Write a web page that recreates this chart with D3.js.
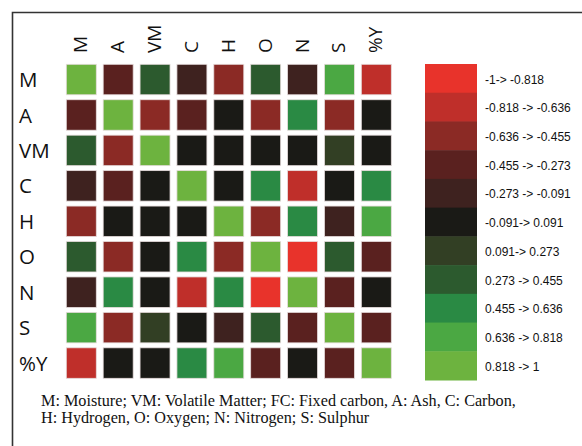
<!DOCTYPE html>
<html>
<head>
<meta charset="utf-8">
<script src="https://cdnjs.cloudflare.com/ajax/libs/d3/7.8.5/d3.min.js"></script>
<style>
  body { margin: 0; background: #fff; }
</style>
</head>
<body>
<div id="chart"></div>
<script>
// Setting up width and height of chart
var svgWidth = 582;
var svgHeight = 446;

// Variables (rows and columns)
var variables = ["M", "A", "VM", "C", "H", "O", "N", "S", "%Y"];

// Correlation values (one row per variable)
var rowM  = [1, -0.36, 0.36, -0.18, -0.55, 0.36, -0.18, 0.73, -0.73];
var rowA  = [-0.36, 1, -0.55, -0.36, 0.0, -0.55, 0.55, -0.55, 0.0];
var rowVM = [0.36, -0.55, 1, 0.0, 0.0, 0.0, 0.0, 0.18, 0.0];
var rowC  = [-0.18, -0.36, 0.0, 1, 0.0, 0.55, -0.73, 0.0, 0.55];
var rowH  = [-0.55, 0.0, 0.0, 0.0, 1, -0.55, 0.55, -0.18, 0.73];
var rowO  = [0.36, -0.55, 0.0, 0.55, -0.55, 1, -0.91, 0.36, -0.36];
var rowN  = [-0.18, 0.55, 0.0, -0.73, 0.55, -0.91, 1, -0.36, 0.0];
var rowS  = [0.73, -0.55, 0.18, 0.0, -0.18, 0.36, -0.36, 1, -0.36];
var rowY  = [-0.73, 0.0, 0.0, 0.55, 0.73, -0.36, 0.0, -0.36, 1];
var matrix = [rowM, rowA, rowVM, rowC, rowH, rowO, rowN, rowS, rowY];

// Legend bins
var binLabels = ["-1-> -0.818", "-0.818 -> -0.636", "-0.636 -> -0.455", "-0.455 -> -0.273",
  "-0.273 -> -0.091", "-0.091-> 0.091", "0.091-> 0.273", "0.273 -> 0.455",
  "0.455 -> 0.636", "0.636 -> 0.818", "0.818 -> 1"];
var binColors = ["#e8332b", "#bf2f2a", "#8b2a25", "#5a211f", "#3e221f", "#1a1a16",
  "#323f24", "#2c5a2e", "#2a8a44", "#4ba843", "#6db33f"];

var svg = d3.select("#chart")
  .append("svg")
  .attr("width", svgWidth)
  .attr("height", svgHeight);

// Frame (top and left edges only)
svg.append("path")
  .attr("d", "M12.5,446 L12.5,12.5 L582,12.5")
  .attr("fill", "none")
  .attr("stroke", "#333")
  .attr("stroke-width", 1.6);

// Scales
var xScale = d3.scaleBand()
  .domain(variables)
  .range([66.3, 391.3])
  .paddingInner(0.187);

var yScale = d3.scaleBand()
  .domain(variables)
  .range([64.3, 378.3])
  .paddingInner(0.14);

var colorScale = d3.scaleQuantize()
  .domain([-1, 1])
  .range(binColors);

// flatten cells
var cells = [];
matrix.forEach(function(row, i) {
  row.forEach(function(v, j) {
    cells.push({ row: variables[i], col: variables[j], value: v });
  });
});

svg.append("g").selectAll("rect")
  .data(cells)
  .enter()
  .append("rect")
  .attr("x", d => xScale(d.col))
  .attr("y", d => yScale(d.row))
  .attr("width", xScale.bandwidth())
  .attr("height", yScale.bandwidth())
  .attr("fill", d => colorScale(d.value))
  .attr("stroke", "#e6dcdc")
  .attr("stroke-width", 0.8);

// Row labels
svg.append("g").selectAll("text")
  .data(variables)
  .enter()
  .append("text")
  .attr("x", 19)
  .attr("y", d => yScale(d) + yScale.bandwidth() / 2)
  .attr("dy", "0.37em")
  .attr("font-family", "Open Sans, sans-serif")
  .attr("font-size", "20.5px")
  .attr("fill", "#111")
  .text(d => d);

// Column labels (rotated)
svg.append("g").selectAll("text")
  .data(variables)
  .enter()
  .append("text")
  .attr("transform", d => `translate(${xScale(d) + xScale.bandwidth() / 2 + 6}, 53) rotate(-90)`)
  .attr("font-family", "Open Sans, sans-serif")
  .attr("font-size", "19px")
  .attr("fill", "#111")
  .text(d => d);

// Legend
var legendScale = d3.scaleBand()
  .domain(d3.range(binColors.length))
  .range([64, 380]);

var legend = svg.append("g");

legend.selectAll("rect")
  .data(binColors)
  .enter()
  .append("rect")
  .attr("x", 425)
  .attr("y", (d, i) => legendScale(i))
  .attr("width", 52)
  .attr("height", legendScale.bandwidth() + 0.5)
  .attr("fill", d => d);

legend.selectAll("text")
  .data(binLabels)
  .enter()
  .append("text")
  .attr("x", 485)
  .attr("y", (d, i) => legendScale(i) + legendScale.bandwidth() / 2 + 1)
  .attr("dy", "0.35em")
  .attr("font-family", "Liberation Sans, Arial, sans-serif")
  .attr("font-size", "12px")
  .attr("fill", "#111")
  .text(d => d);

// Caption
var caption = svg.append("text")
  .attr("font-family", "Liberation Serif, Times New Roman, serif")
  .attr("font-size", "16.2px")
  .attr("fill", "#111");

caption.append("tspan")
  .attr("x", 41)
  .attr("y", 406)
  .text("M: Moisture; VM: Volatile Matter; FC: Fixed carbon, A: Ash, C: Carbon,");

caption.append("tspan")
  .attr("x", 41)
  .attr("y", 423)
  .text("H: Hydrogen, O: Oxygen; N: Nitrogen; S: Sulphur");
</script>
</body>
</html>
